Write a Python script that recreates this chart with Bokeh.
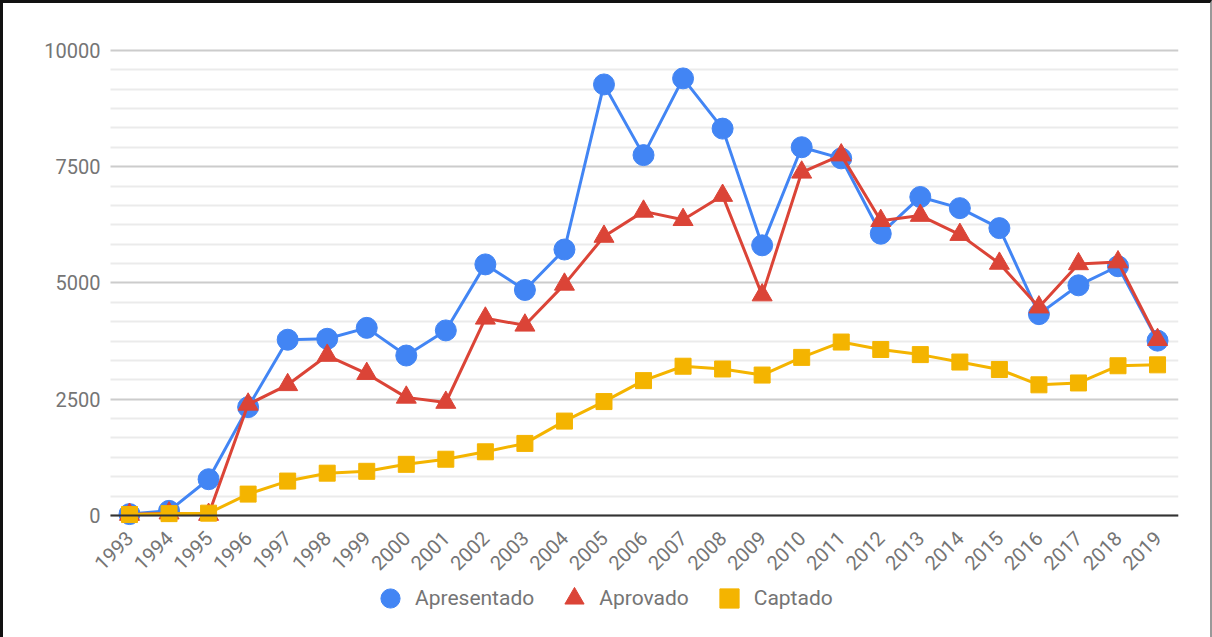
from bokeh.plotting import figure
from bokeh.models import (ColumnDataSource, FixedTicker, Legend, LegendItem, Range1d)
from bokeh.embed import file_html
from bokeh.resources import INLINE
import math

years = list(range(1993, 2020))
apresentado = [30, 100, 780, 2330, 3780, 3800, 4035, 3440, 3980, 5400, 4850, 5720, 9270,
               7750, 9400, 8320, 5810, 7920, 7680, 6060, 6850, 6610, 6180, 4330, 4950, 5360, 3760]
aprovado = [20, 50, 20, 2390, 2810, 3440, 3050, 2540, 2430, 4240, 4090, 4970, 6000,
            6540, 6360, 6880, 4740, 7380, 7750, 6340, 6450, 6040, 5420, 4480, 5410, 5450, 3780]
captado = [20, 40, 50, 460, 740, 910, 950, 1100, 1210, 1370, 1550, 2030, 2450,
           2900, 3210, 3150, 3020, 3400, 3730, 3570, 3460, 3300, 3140, 2810, 2850, 3220, 3240]
y_ticks = [0, 2500, 5000, 7500, 10000]
series_names = ["Apresentado", "Aprovado", "Captado"]
colors = ["#4285F4", "#DB4437", "#F4B400"]

minor = [y_ticks[i] + k * (y_ticks[i + 1] - y_ticks[i]) / 6
         for i in range(len(y_ticks) - 1) for k in range(1, 6)]

# visible data area in x (plot area starts a bit before the first year)
x_lo, x_hi = 1992.52, 2019.53

src = ColumnDataSource(dict(x=years, a=apresentado, b=aprovado, c=captado))

p = figure(frame_width=1148, frame_height=607, output_backend="svg", toolbar_location=None,
           x_range=Range1d(1990.496, x_hi), y_range=Range1d(-2624, 10430),
           min_border_left=27, min_border_right=32, min_border_top=27, min_border_bottom=0)
p.styles = {"border-left": "3px solid #111", "border-top": "3px solid #111",
            "border-right": "2px solid #999"}
p.outline_line_color = None
p.background_fill_color = "white"
p.border_fill_color = "white"

font = "Roboto"
grey = "#757575"

p.xaxis.fixed_location = 0
p.xaxis.bounds = (x_lo, x_hi)
p.xaxis.ticker = FixedTicker(ticks=years)
p.xaxis.major_label_orientation = math.pi / 4
p.xaxis.axis_line_color = "#333333"
p.xaxis.axis_line_width = 2
p.xaxis.major_tick_line_color = None
p.xaxis.minor_tick_line_color = None
p.xaxis.major_tick_out = 0
p.xaxis.minor_tick_out = 0
p.xaxis.major_label_text_font = font
p.xaxis.major_label_text_font_size = "20px"
p.xaxis.major_label_text_color = grey
p.xaxis.major_label_standoff = 19

p.yaxis.fixed_location = x_lo
p.yaxis.bounds = (0, 10000)
p.yaxis.ticker = FixedTicker(ticks=y_ticks, minor_ticks=minor)
p.yaxis.axis_line_color = None
p.yaxis.major_tick_line_color = None
p.yaxis.minor_tick_line_color = None
p.yaxis.major_tick_out = 0
p.yaxis.minor_tick_out = 0
p.yaxis.major_label_text_font = font
p.yaxis.major_label_text_font_size = "20px"
p.yaxis.major_label_text_color = grey
p.yaxis.major_label_standoff = 10

p.xgrid.grid_line_color = None
p.ygrid.cross_bounds = (x_lo, x_hi)
p.ygrid.bounds = (0, 10000)
p.ygrid.grid_line_color = "#cccccc"
p.ygrid.grid_line_width = 2
p.ygrid.minor_grid_line_color = "#ebebeb"
p.ygrid.minor_grid_line_width = 2

l1 = p.line("x", "a", source=src, color=colors[0], line_width=3)
m1 = p.scatter("x", "a", source=src, marker="circle", size=21, color=colors[0])
l2 = p.line("x", "b", source=src, color=colors[1], line_width=3)
m2 = p.scatter("x", "b", source=src, marker="triangle", size=20, color=colors[1])
l3 = p.line("x", "c", source=src, color=colors[2], line_width=3)
m3 = p.scatter("x", "c", source=src, marker="square", size=16, color=colors[2])

legend = Legend(items=[LegendItem(label=series_names[0], renderers=[m1]),
                       LegendItem(label=series_names[1], renderers=[m2]),
                       LegendItem(label=series_names[2], renderers=[m3])],
                orientation="horizontal", location=(336, 15),
                glyph_width=48, glyph_height=48, label_standoff=1, spacing=16,
                padding=0, margin=0, border_line_color=None, background_fill_alpha=0,
                label_text_font=font, label_text_font_size="21px", label_text_color=grey)
p.add_layout(legend, "center")

open("out.html", "w").write(file_html(p, INLINE))
